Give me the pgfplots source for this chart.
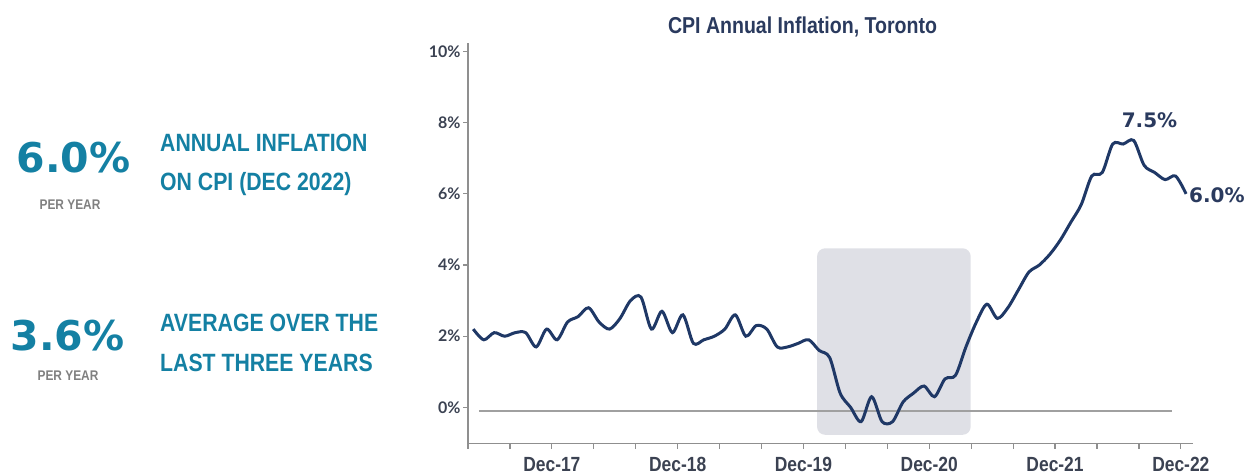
\documentclass[border=0pt]{standalone}
\usepackage{pgfplots}
\pgfplotsset{compat=1.18}
\usepackage{fontspec}
\setmainfont{Liberation Sans}
\newfontfamily\cond[FakeStretch=0.85]{Liberation Sans}
\newfontfamily\dv{DejaVu Sans}
\newfontfamily\lato{Lato}
\definecolor{teal}{HTML}{1480A3}
\definecolor{navy}{HTML}{2A3A5E}
\definecolor{linecol}{HTML}{1F3866}
\definecolor{ticklab}{HTML}{3B4252}
\definecolor{axisgray}{HTML}{8F8F8F}
\definecolor{zerogray}{HTML}{A0A0A0}
\definecolor{shadecol}{HTML}{DFE0E6}
\definecolor{pergray}{HTML}{808080}
\pgfplotstableread{
x y
4.5 2.2
5.5 1.9
6.5 2.1
7.5 2.0
8.5 2.1
9.5 2.1
10.5 1.7
11.5 2.2
12.5 1.9
13.5 2.4
14.5 2.55
15.5 2.8
16.5 2.4
17.5 2.2
18.5 2.5
19.5 3.0
20.5 3.1
21.5 2.2
22.5 2.7
23.5 2.1
24.5 2.6
25.5 1.8
26.5 1.9
27.5 2.0
28.5 2.2
29.5 2.6
30.5 2.0
31.5 2.3
32.5 2.2
33.5 1.7
34.5 1.7
35.5 1.8
36.5 1.9
37.5 1.6
38.5 1.4
39.5 0.4
40.5 0.0
41.5 -0.4
42.5 0.3
43.5 -0.4
44.5 -0.4
45.5 0.15
46.5 0.4
47.5 0.6
48.5 0.3
49.5 0.8
50.5 0.9
51.5 1.7
52.5 2.4
53.5 2.9
54.5 2.5
55.5 2.8
56.5 3.3
57.5 3.8
58.5 4.0
59.5 4.3
60.5 4.7
61.5 5.2
62.5 5.7
63.5 6.5
64.5 6.6
65.5 7.4
66.5 7.4
67.5 7.5
68.5 6.8
69.5 6.6
70.5 6.4
71.5 6.5
72.5 6.0
}\cpidata
\begin{document}
\begin{tikzpicture}[x=1pt,y=1pt]
\useasboundingbox (0,0) rectangle (1249,474);
\begin{axis}[
  at={(468pt,30.3pt)}, anchor=south west,
  scale only axis, width=725pt, height=400.4pt,
  xmin=4, xmax=73.16, ymin=-1.02, ymax=10.23,
  axis x line*=bottom, axis y line*=left,
  axis line style={draw=axisgray, line width=1.5pt, -},
  xtick={4,8,...,72},
  xticklabels={,,Dec-17,,,Dec-18,,,Dec-19,,,Dec-20,,,Dec-21,,,Dec-22},
  ytick={0,2,4,6,8,10},
  yticklabels={0\%,2\%,4\%,6\%,8\%,10\%},
  tick align=outside, major tick length=5pt,
  tick style={draw=axisgray, line width=1.2pt},
  xticklabel style={font=\cond\bfseries\fontsize{20.5}{22}\selectfont, text=ticklab, anchor=base, yshift=-22.5pt, inner sep=1pt},
  yticklabel style={font=\lato\bfseries\fontsize{16}{18}\selectfont, text=ticklab, anchor=east, xshift=1pt},
  clip=false,
]
\fill[shadecol, rounded corners=8pt] (axis cs:37.3,4.47) rectangle (axis cs:51.95,-0.77);
\addplot[draw=zerogray, line width=2pt] coordinates {(5.03,-0.09) (71.13,-0.09)};
\addplot[draw=linecol, line width=3pt, smooth, tension=0.5] table[x=x,y=y] {\cpidata};
\end{axis}
% title
\node[anchor=base, text=navy, font=\cond\bfseries\fontsize{23}{25}\selectfont, inner sep=0] at (802.5,440) {CPI Annual Inflation, Toronto};
% value labels
\node[anchor=base, text=navy, font=\dv\bfseries\fontsize{20}{22}\selectfont, inner sep=0] at (1149.5,346.7) {7.5\%};
\node[anchor=base west, text=navy, font=\dv\bfseries\fontsize{20}{22}\selectfont, inner sep=0] at (1189,271.3) {6.0\%};
% left panel
\node[anchor=base, text=teal, font=\dv\bfseries\fontsize{41}{44}\selectfont, inner sep=0] at (73.4,301) {6.0\%};
\node[anchor=base, text=pergray, font=\cond\bfseries\fontsize{14}{16}\selectfont, inner sep=0] at (70,264) {PER YEAR};
\node[anchor=base west, text=teal, font=\cond\bfseries\fontsize{25}{27}\selectfont, inner sep=0] at (160,322.3) {ANNUAL INFLATION};
\node[anchor=base west, text=teal, font=\cond\bfseries\fontsize{25}{27}\selectfont, inner sep=0] at (160,283) {ON CPI (DEC 2022)};
\node[anchor=base, text=teal, font=\dv\bfseries\fontsize{41}{44}\selectfont, inner sep=0] at (67.5,123.3) {3.6\%};
\node[anchor=base, text=pergray, font=\cond\bfseries\fontsize{14}{16}\selectfont, inner sep=0] at (68,94) {PER YEAR};
\node[anchor=base west, text=teal, font=\cond\bfseries\fontsize{25}{27}\selectfont, inner sep=0] at (160,142.3) {AVERAGE OVER THE};
\node[anchor=base west, text=teal, font=\cond\bfseries\fontsize{25}{27}\selectfont, inner sep=0] at (160,102.3) {LAST THREE YEARS};
\end{tikzpicture}
\end{document}
